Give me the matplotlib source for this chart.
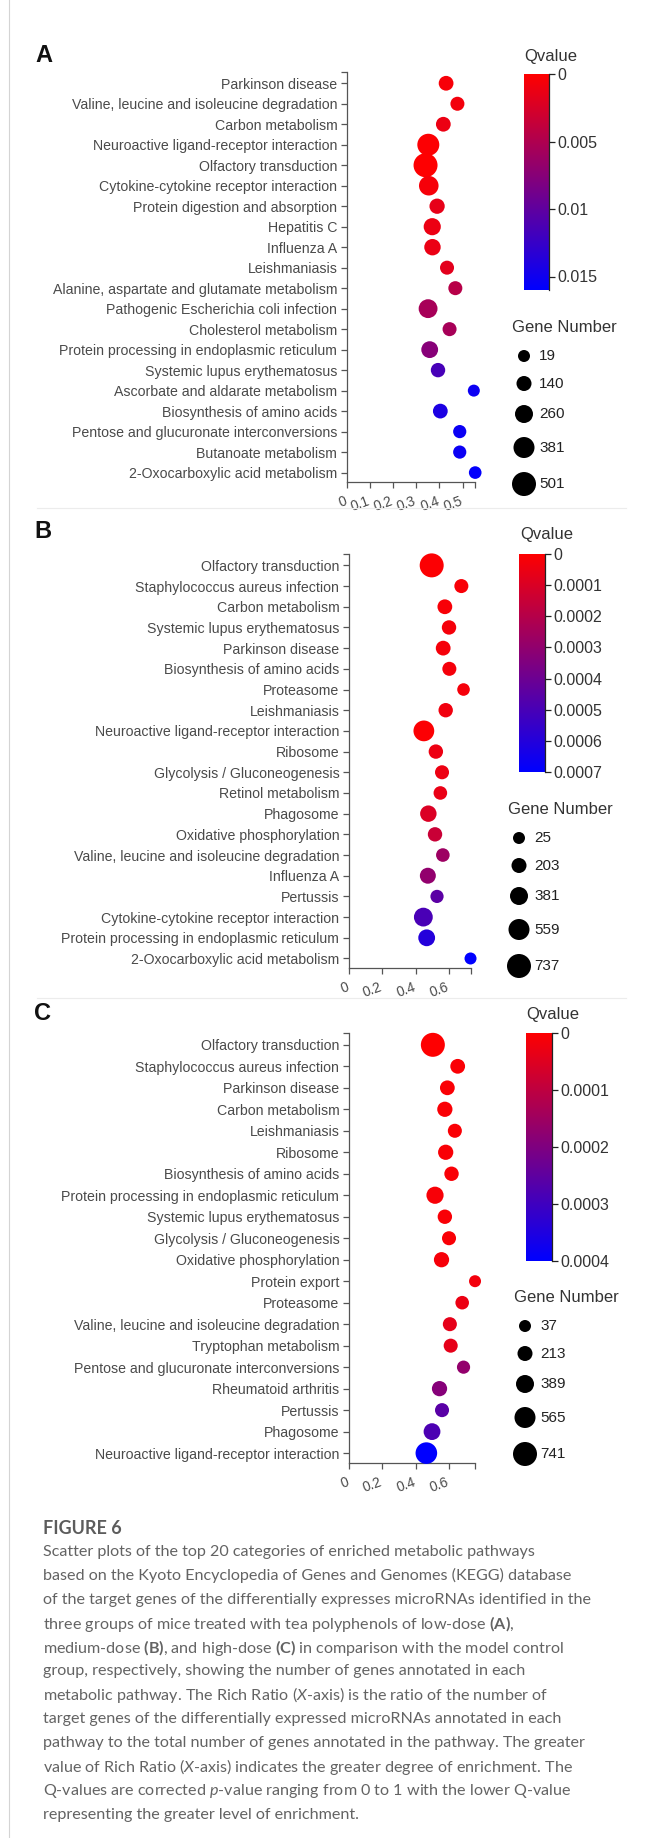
import re
import numpy as np
import matplotlib
matplotlib.use('Agg')
import matplotlib.pyplot as plt
from matplotlib.colors import LinearSegmentedColormap
from matplotlib.transforms import ScaledTranslation

plt.rcParams['font.family'] = ['Liberation Sans', 'DejaVu Sans']
plt.rcParams['mathtext.fontset'] = 'custom'
plt.rcParams['mathtext.rm'] = 'Lato'
plt.rcParams['mathtext.it'] = 'Lato:italic'
plt.rcParams['mathtext.bf'] = 'Lato:bold'

W, H, DPI = 648, 1838, 100

# ---------------- data ----------------
a_pathways = ["Parkinson disease", "Valine, leucine and isoleucine degradation",
              "Carbon metabolism", "Neuroactive ligand-receptor interaction",
              "Olfactory transduction", "Cytokine-cytokine receptor interaction",
              "Protein digestion and absorption", "Hepatitis C", "Influenza A",
              "Leishmaniasis", "Alanine, aspartate and glutamate metabolism",
              "Pathogenic Escherichia coli infection", "Cholesterol metabolism",
              "Protein processing in endoplasmic reticulum", "Systemic lupus erythematosus",
              "Ascorbate and aldarate metabolism", "Biosynthesis of amino acids",
              "Pentose and glucuronate interconversions", "Butanoate metabolism",
              "2-Oxocarboxylic acid metabolism"]
a_ratio = [0.429, 0.478, 0.417, 0.352, 0.340, 0.354, 0.390, 0.369, 0.370, 0.433,
           0.469, 0.351, 0.444, 0.358, 0.394, 0.549, 0.404, 0.488, 0.488, 0.555]
a_genes = [130, 100, 130, 420, 501, 323, 150, 226, 197, 100,
           100, 294, 100, 212, 115, 19, 130, 67, 67, 45]
a_qvalue = [0.0005, 0.0008, 0.0012, 0.0002, 0.0001, 0.0006, 0.0015, 0.0012, 0.0013, 0.0018,
            0.0045, 0.0055, 0.0055, 0.0075, 0.0115, 0.0152, 0.0142, 0.0153, 0.0153, 0.0158]
a_xticks = [0, 0.1, 0.2, 0.3, 0.4, 0.5]
a_qticks = [0, 0.005, 0.01, 0.015]
a_qmax = 0.016
a_gene_legend = [19, 140, 260, 381, 501]

b_pathways = ["Olfactory transduction", "Staphylococcus aureus infection", "Carbon metabolism",
              "Systemic lupus erythematosus", "Parkinson disease", "Biosynthesis of amino acids",
              "Proteasome", "Leishmaniasis", "Neuroactive ligand-receptor interaction",
              "Ribosome", "Glycolysis / Gluconeogenesis", "Retinol metabolism", "Phagosome",
              "Oxidative phosphorylation", "Valine, leucine and isoleucine degradation",
              "Influenza A", "Pertussis", "Cytokine-cytokine receptor interaction",
              "Protein processing in endoplasmic reticulum", "2-Oxocarboxylic acid metabolism"]
b_ratio = [0.496, 0.674, 0.575, 0.600, 0.565, 0.602, 0.687, 0.580, 0.449, 0.521,
           0.558, 0.548, 0.476, 0.516, 0.563, 0.473, 0.528, 0.446, 0.466, 0.729]
b_genes = [737, 146, 190, 167, 190, 146, 60, 167, 545, 167,
           146, 120, 288, 167, 120, 260, 96, 430, 310, 25]
b_qvalue = [0.00001, 0.00002, 0.00002, 0.00003, 0.00003, 0.00003, 0.00003, 0.00004, 0.00001, 0.00005,
            0.00005, 0.00006, 0.0001, 0.00015, 0.00027, 0.0003, 0.00045, 0.0005, 0.0006, 0.0007]
b_xticks = [0, 0.2, 0.4, 0.6]
b_qticks = [0, 0.0001, 0.0002, 0.0003, 0.0004, 0.0005, 0.0006, 0.0007]
b_qmax = 0.0007
b_gene_legend = [25, 203, 381, 559, 737]

c_pathways = ["Olfactory transduction", "Staphylococcus aureus infection", "Parkinson disease",
              "Carbon metabolism", "Leishmaniasis", "Ribosome", "Biosynthesis of amino acids",
              "Protein processing in endoplasmic reticulum", "Systemic lupus erythematosus",
              "Glycolysis / Gluconeogenesis", "Oxidative phosphorylation", "Protein export",
              "Proteasome", "Valine, leucine and isoleucine degradation", "Tryptophan metabolism",
              "Pentose and glucuronate interconversions", "Rheumatoid arthritis", "Pertussis",
              "Phagosome", "Neuroactive ligand-receptor interaction"]
c_ratio = [0.503, 0.652, 0.590, 0.575, 0.635, 0.580, 0.615, 0.516, 0.575, 0.600,
           0.555, 0.756, 0.679, 0.605, 0.610, 0.687, 0.543, 0.558, 0.498, 0.464]
c_genes = [741, 199, 199, 227, 157, 227, 178, 340, 178, 157,
           227, 37, 129, 157, 157, 107, 227, 157, 318, 600]
c_qvalue = [0.000003, 0.000008, 0.000008, 0.000008, 0.000008, 0.00001, 0.00001, 0.000012, 0.00001, 0.00001,
            0.000015, 0.00002, 0.00003, 0.00004, 0.00004, 0.00017, 0.00019, 0.00026, 0.00028, 0.0004]
c_xticks = [0, 0.2, 0.4, 0.6]
c_qticks = [0, 0.0001, 0.0002, 0.0003, 0.0004]
c_qmax = 0.0004
c_gene_legend = [37, 213, 389, 565, 741]

caption_title = "FIGURE 6"
caption_lines = [
    "Scatter plots of the top 20 categories of enriched metabolic pathways",
    "based on the Kyoto Encyclopedia of Genes and Genomes (KEGG) database",
    "of the target genes of the differentially expresses microRNAs identified in the",
    r"three groups of mice treated with tea polyphenols of low-dose $\mathbf{(A)}$,",
    r"medium-dose $\mathbf{(B)}$, and high-dose $\mathbf{(C)}$ in comparison with the model control",
    "group, respectively, showing the number of genes annotated in each",
    r"metabolic pathway. The Rich Ratio ($\mathit{X}$-axis) is the ratio of the number of",
    "target genes of the differentially expressed microRNAs annotated in each",
    "pathway to the total number of genes annotated in the pathway. The greater",
    r"value of Rich Ratio ($\mathit{X}$-axis) indicates the greater degree of enrichment. The",
    r"Q-values are corrected $\mathit{p}$-value ranging from 0 to 1 with the lower Q-value",
    "representing the greater level of enrichment.",
]

# ---------------- layout (pixels) ----------------
panels = [
    dict(letter="A", path=a_pathways, x=a_ratio, n=a_genes, q=a_qvalue, xt=a_xticks,
         qt=a_qticks, qmax=a_qmax, leg=a_gene_legend,
         axis_x=347, top=72, bottom=482, ppu=231, letter_xy=(35, 56),
         cbar=(524, 549, 74, 290), qtitle=(524, 56), gtitle=(512, 327), leg_x=524),
    dict(letter="B", path=b_pathways, x=b_ratio, n=b_genes, q=b_qvalue, xt=b_xticks,
         qt=b_qticks, qmax=b_qmax, leg=b_gene_legend,
         axis_x=349, top=554, bottom=968, ppu=166.7, letter_xy=(34, 531),
         cbar=(519, 545, 554, 772), qtitle=(520, 535), gtitle=(508, 809), leg_x=519),
    dict(letter="C", path=c_pathways, x=c_ratio, n=c_genes, q=c_qvalue, xt=c_xticks,
         qt=c_qticks, qmax=c_qmax, leg=c_gene_legend,
         axis_x=349, top=1033, bottom=1463, ppu=166.7, letter_xy=(34, 1013),
         cbar=(526, 552, 1033, 1261), qtitle=(526, 1014), gtitle=(514, 1297), leg_x=525),
]

TXT = '#4a4a4a'
AXC = '#555555'
cmap = LinearSegmentedColormap.from_list('rb', ['#ff0000', '#0000ff'])


def dot_size(n, leg):
    # marker diameter grows linearly from 12 px to 24 px across the legend range
    d = 12 + 12 * (np.asarray(n, float) - leg[0]) / (leg[-1] - leg[0])
    return (d * 72 / DPI) ** 2


def frac(x0, y0, x1, y1):
    return [x0 / W, 1 - y1 / H, (x1 - x0) / W, (y1 - y0) / H]


fig = plt.figure(figsize=(W / DPI, H / DPI), dpi=DPI)
fig.patch.set_facecolor('white')

for p in panels:
    xmax = max(p['x'])
    ax = fig.add_axes(frac(p['axis_x'], p['top'], p['axis_x'] + p['ppu'] * xmax, p['bottom']))
    rows = np.arange(len(p['path']))
    ax.scatter(p['x'], rows, s=dot_size(p['n'], p['leg']), c=p['q'], cmap=cmap,
               vmin=0, vmax=p['qmax'], linewidths=0, clip_on=False, zorder=3)
    ax.set_xlim(0, xmax)
    ax.set_ylim(len(rows) - 1 + 0.46, -0.55)
    ax.set_yticks(rows)
    ax.set_yticklabels(p['path'], fontsize=10.2, color=TXT)
    ax.set_yticks([-0.55], minor=True)
    ax.set_xticks(p['xt'])
    ax.set_xticklabels(['{:g}'.format(v) for v in p['xt']], fontsize=10, color=TXT)
    ax.set_xticks([xmax], minor=True)
    for s in ['top', 'right']:
        ax.spines[s].set_visible(False)
    for s in ['left', 'bottom']:
        ax.spines[s].set_color(AXC)
        ax.spines[s].set_linewidth(0.9)
    ax.tick_params(which='both', length=4, width=0.9, color=AXC, pad=3)
    ax.patch.set_alpha(0)
    plt.setp(ax.get_xticklabels(), rotation=20, ha='right', va='top', rotation_mode='anchor')
    off = ScaledTranslation(-3 / DPI, -2 / DPI, fig.dpi_scale_trans)
    for lab in ax.get_xticklabels():
        lab.set_transform(lab.get_transform() + off)

    # Qvalue colour bar
    x0, x1, y0, y1 = p['cbar']
    cax = fig.add_axes(frac(x0, y0, x1, y1))
    grad = np.linspace(0, p['qmax'], 256).reshape(-1, 1)
    cax.imshow(grad, aspect='auto', cmap=cmap, vmin=0, vmax=p['qmax'],
               extent=[0, 1, p['qmax'], 0])
    for s in ['left', 'top', 'bottom']:
        cax.spines[s].set_visible(False)
    cax.spines['right'].set_color('#222222')
    cax.spines['right'].set_linewidth(0.9)
    cax.set_xticks([])
    cax.yaxis.tick_right()
    cax.set_yticks(p['qt'])
    cax.set_yticklabels(['{:g}'.format(v) for v in p['qt']], fontsize=11.5, color='#333333')
    cax.tick_params(axis='y', length=4, width=0.9, color='#222222', pad=2)

ov = fig.add_axes([0, 0, 1, 1])
ov.set_xlim(0, W)
ov.set_ylim(H, 0)
ov.axis('off')
ov.patch.set_alpha(0)

# page decorations
ov.plot([9, 9], [0, H], color='#d4d4d4', lw=0.8)
for ysep in [508, 998]:
    ov.plot([37, 626], [ysep, ysep], color='#ececec', lw=0.8)

for p in panels:
    lx, ly = p['letter_xy']
    ov.text(lx, ly, p['letter'], fontsize=17, fontweight='bold', color='#111111',
            ha='left', va='center')
    qx, qy = p['qtitle']
    ov.text(qx, qy, 'Qvalue', fontsize=12, color='#333333', ha='left', va='center')
    gx, gy = p['gtitle']
    ov.text(gx, gy, 'Gene Number', fontsize=12, color='#333333', ha='left', va='center')
    leg = p['leg']
    diam = 12 + 12 * (np.asarray(leg, float) - leg[0]) / (leg[-1] - leg[0])
    ys = [gy + 29]
    for k in range(1, len(leg)):
        ys.append(ys[-1] + (diam[k - 1] + diam[k]) / 2 + 14)
    ov.scatter([p['leg_x']] * len(leg), ys, s=dot_size(leg, leg), color='black',
               linewidths=0, zorder=3)
    for yv, v in zip(ys, leg):
        ov.text(p['leg_x'] + 15, yv, str(v), fontsize=11, color='#222222',
                ha='left', va='center')

# caption
ov.text(43, 1528, caption_title, fontsize=13, fontweight='bold', family='Lato',
        color='#5c5c5c', ha='left', va='center')
renderer = fig.canvas.get_renderer()
for i, line in enumerate(caption_lines):
    t = ov.text(43, 1552 + i * 23.9, line, fontsize=11.6, family='Lato',
                color='#636363', ha='left', va='center')
    w = t.get_window_extent(renderer).width
    if w > 580:
        t.set_fontsize(11.6 * 580 / w)

fig.savefig('out.png', dpi=DPI, facecolor='white')
